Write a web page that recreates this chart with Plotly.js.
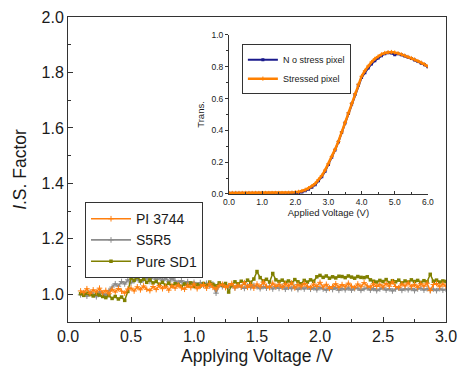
<!DOCTYPE html>
<html><head><meta charset="utf-8">
<script src="https://cdn.plot.ly/plotly-3.0.1.min.js"></script>
<style>html,body{margin:0;padding:0;background:#fff}#chart{width:459px;height:377px}</style>
</head><body><div id="chart"></div>
<script>
const voltage = [0.100,0.125,0.150,0.175,0.200,0.225,0.250,0.275,0.300,0.325,0.350,0.375,0.400,0.425,0.450,0.475,0.500,0.525,0.550,0.575,0.600,0.625,0.650,0.675,0.700,0.725,0.750,0.775,0.800,0.825,0.850,0.875,0.900,0.925,0.950,0.975,1.000,1.025,1.050,1.075,1.100,1.125,1.150,1.175,1.200,1.225,1.250,1.275,1.300,1.325,1.350,1.375,1.400,1.425,1.450,1.475,1.500,1.525,1.550,1.575,1.600,1.625,1.650,1.675,1.700,1.725,1.750,1.775,1.800,1.825,1.850,1.875,1.900,1.925,1.950,1.975,2.000,2.025,2.050,2.075,2.100,2.125,2.150,2.175,2.200,2.225,2.250,2.275,2.300,2.325,2.350,2.375,2.400,2.425,2.450,2.475,2.500,2.525,2.550,2.575,2.600,2.625,2.650,2.675,2.700,2.725,2.750,2.775,2.800,2.825,2.850,2.875,2.900,2.925,2.950,2.975,3.000];
const pi3744 = [1.012,1.006,1.020,1.003,1.016,1.008,1.022,1.005,
1.014,1.002,1.018,1.008,1.021,1.011,1.004,1.019,
1.022,1.012,1.027,1.016,1.030,1.018,1.013,1.028,
1.017,1.032,1.020,1.029,1.015,1.031,1.022,1.034,
1.023,1.018,1.033,1.024,1.037,1.020,1.029,1.035,
1.022,1.038,1.025,1.019,1.032,1.036,1.024,1.031,
1.039,1.023,1.033,1.026,1.042,1.025,1.035,1.022,
1.037,1.027,1.044,1.029,1.024,1.040,1.028,1.036,
1.025,1.038,1.029,1.041,1.023,1.035,1.027,1.039,
1.029,1.024,1.037,1.028,1.043,1.026,1.036,1.021,
1.028,1.038,1.025,1.035,1.027,1.040,1.029,1.024,
1.037,1.027,1.042,1.030,1.025,1.038,1.028,1.036,
1.026,1.039,1.029,1.045,1.028,1.024,1.037,1.030,
1.041,1.027,1.036,1.025,1.038,1.029,1.040,1.013,
1.035,1.039,1.027,1.037,1.029];
const s5r5 = [0.998,1.005,0.993,1.007,1.000,0.991,1.009,1.002,
0.996,1.013,1.026,1.038,1.029,1.046,1.037,1.052,
1.041,1.049,1.057,1.044,1.053,1.060,1.046,1.064,
1.053,1.062,1.049,1.059,1.045,1.057,1.048,1.042,
1.049,1.039,1.046,1.036,1.043,1.034,1.042,1.032,
1.040,1.030,1.037,1.004,1.035,1.027,1.034,1.025,
1.032,1.023,1.031,1.026,1.021,1.030,1.024,1.032,
1.027,1.020,1.028,1.022,1.029,1.019,1.026,1.021,
1.028,1.018,1.025,1.020,1.027,1.017,1.024,1.019,
1.026,1.018,1.023,1.016,1.024,1.019,1.015,1.023,
1.017,1.024,1.014,1.021,1.016,1.023,1.015,1.020,
1.022,1.014,1.020,1.023,1.015,1.021,1.013,1.019,
1.023,1.015,1.020,1.012,1.019,1.022,1.014,1.020,
1.016,1.021,1.013,1.019,1.022,1.015,1.020,1.014,
1.019,1.013,1.020,1.015,1.018];
const pureSD1 = [1.002,0.996,1.004,0.999,0.994,1.001,0.997,0.992,
0.988,0.995,0.985,0.992,0.983,0.990,0.978,1.010,
1.058,1.050,1.062,1.048,1.055,1.043,1.052,1.041,
1.046,1.036,1.043,1.032,1.040,1.030,1.038,1.034,
1.029,1.037,1.031,1.041,1.028,1.035,1.030,1.039,
1.032,1.044,1.036,1.030,1.041,1.033,1.039,1.008,
1.034,1.045,1.038,1.047,1.040,1.051,1.043,1.055,
1.082,1.060,1.048,1.054,1.044,1.075,1.052,1.046,
1.051,1.043,1.048,1.040,1.053,1.045,1.038,1.050,
1.044,1.052,1.047,1.063,1.068,1.061,1.066,1.058,
1.063,1.059,1.065,1.064,1.060,1.066,1.062,1.058,
1.064,1.061,1.060,1.063,1.052,1.047,1.044,1.050,
1.046,1.053,1.042,1.049,1.045,1.051,1.041,1.048,
1.044,1.052,1.046,1.050,1.043,1.049,1.045,1.072,
1.047,1.051,1.044,1.048,1.046];

const appliedV = [0.0,0.1,0.2,0.3,0.4,0.5,0.6,0.7,0.8,0.9,1.0,1.1,1.2,1.3,1.4,1.5,1.6,1.7,1.8,1.9,2.0,2.1,2.2,2.3,2.4,2.5,2.6,2.7,2.8,2.9,3.0,3.1,3.2,3.3,3.4,3.5,3.6,3.7,3.8,3.9,4.0,4.1,4.2,4.3,4.4,4.5,4.6,4.7,4.8,4.9,5.0,5.1,5.2,5.3,5.4,5.5,5.6,5.7,5.8,5.9,6.0];
const noStress = [0.004,0.004,0.004,0.004,0.004,0.004,0.004,0.004,0.004,0.004,0.004,0.004,0.004,0.004,0.004,0.004,0.004,0.004,0.004,0.005,0.006,0.008,0.012,0.020,0.030,0.042,0.058,0.082,0.108,0.143,0.185,0.230,0.276,0.327,0.386,0.446,0.506,0.566,0.625,0.684,0.732,0.763,0.792,0.818,0.838,0.855,0.870,0.882,0.888,0.886,0.876,0.882,0.876,0.868,0.860,0.852,0.843,0.833,0.823,0.812,0.800];
const stressed = [0.006,0.006,0.006,0.006,0.006,0.006,0.006,0.006,0.006,0.006,0.006,0.006,0.006,0.006,0.006,0.006,0.006,0.006,0.007,0.008,0.010,0.013,0.018,0.026,0.036,0.048,0.065,0.090,0.115,0.150,0.190,0.235,0.280,0.330,0.390,0.450,0.510,0.570,0.630,0.690,0.740,0.775,0.805,0.830,0.850,0.865,0.878,0.887,0.892,0.893,0.890,0.885,0.878,0.870,0.862,0.855,0.846,0.836,0.826,0.815,0.802];

const font = 'Liberation Sans, Arial, sans-serif';
const traces = [
  {x: voltage, y: s5r5, name: 'S5R5', type: 'scatter', mode: 'lines+markers', legendrank: 2,
   line: {color: '#8c8c8c', width: 1.8}, marker: {color: '#8c8c8c', size: 4, symbol: 'cross-thin', line:{color:'#8c8c8c', width:1}}, legend: 'legend'},
  {x: voltage, y: pureSD1, name: 'Pure SD1', type: 'scatter', mode: 'lines+markers', legendrank: 3,
   line: {color: '#808000', width: 1.5}, marker: {color: '#808000', size: 3.5, symbol: 'square'}, legend: 'legend'},
  {x: voltage, y: pi3744, name: 'PI 3744', type: 'scatter', mode: 'lines+markers', legendrank: 1,
   line: {color: '#ff7f0e', width: 1.5}, marker: {color: '#ff7f0e', size: 4, symbol: 'cross-thin', line:{color:'#ff7f0e', width:1}}, legend: 'legend'},
  {x: appliedV, y: noStress, name: 'N o stress pixel', type: 'scatter', mode: 'lines+markers',
   xaxis: 'x2', yaxis: 'y2', line: {color: '#1a1a8c', width: 2}, marker: {color: '#1a1a8c', size: 3, symbol: 'square'}, legend: 'legend2'},
  {x: appliedV, y: stressed, name: 'Stressed pixel', type: 'scatter', mode: 'lines+markers',
   xaxis: 'x2', yaxis: 'y2', line: {color: '#ff8000', width: 2.5}, marker: {color: '#ff8000', size: 3, symbol: 'cross-thin', line:{color:'#ff8000', width:1}}, legend: 'legend2'}
];

const layout = {
  width: 459, height: 377,
  margin: {l: 68, r: 13, t: 17, b: 55},
  paper_bgcolor: '#fff', plot_bgcolor: '#fff',
  font: {family: font, color: '#1a1a1a'},
  showlegend: true,
  xaxis: {
    domain: [0, 1], range: [0, 3.0], dtick: 0.5, tickformat: '.1f',
    ticks: 'inside', ticklen: 5, tickcolor: '#333', showline: true, linecolor: '#333', linewidth: 1, mirror: true,
    showgrid: false, zeroline: false, tickfont: {size: 16, family: font},
    minor: {dtick: 0.25, ticks: 'inside', ticklen: 3, tickcolor: '#333'},
    title: {text: 'Applying Voltage /V', font: {size: 17.5, family: font}, standoff: 5}
  },
  yaxis: {
    domain: [0, 1], range: [0.9, 2.0], tick0: 1.0, dtick: 0.2, tickformat: '.1f',
    ticks: 'inside', ticklen: 5, tickcolor: '#333', showline: true, linecolor: '#333', linewidth: 1, mirror: true,
    showgrid: false, zeroline: false, tickfont: {size: 16, family: font},
    minor: {tick0: 1.0, dtick: 0.1, ticks: 'inside', ticklen: 3, tickcolor: '#333'},
    title: {text: '<i>I</i>.S. Factor', font: {size: 17.5, family: font}, standoff: 10}
  },
  xaxis2: {
    domain: [0.426, 0.952], anchor: 'y2', range: [0, 6.0], dtick: 1.0, tickformat: '.1f',
    ticks: 'inside', ticklen: 3, tickcolor: '#333', showline: true, linecolor: '#333', linewidth: 1,
    showgrid: false, zeroline: false, tickfont: {size: 8.5, family: font},
    minor: {dtick: 0.5, ticks: 'inside', ticklen: 2, tickcolor: '#333'},
    title: {text: 'Applied Voltage (V)', font: {size: 9.5, family: font}, standoff: 1}
  },
  yaxis2: {
    domain: [0.42, 0.941], anchor: 'x2', range: [0, 1.0], dtick: 0.2, tickformat: '.1f',
    ticks: 'outside', ticklen: 3, tickcolor: '#333', showline: true, linecolor: '#333', linewidth: 1,
    showgrid: false, zeroline: false, tickfont: {size: 8.5, family: font},
    minor: {dtick: 0.1, ticks: 'outside', ticklen: 2, tickcolor: '#333'},
    title: {text: 'Trans.', font: {size: 9.5, family: font}, standoff: 5}
  },
  legend: {
    x: 0.045, y: 0.393, xanchor: 'left', yanchor: 'top',
    bgcolor: '#fff', bordercolor: '#333', borderwidth: 1,
    font: {size: 14, family: font}, traceorder: 'normal',
    itemwidth: 40, tracegroupgap: 0
  },
  legend2: {
    x: 0.46, y: 0.911, xanchor: 'left', yanchor: 'top',
    bgcolor: '#fff', bordercolor: '#333', borderwidth: 1,
    font: {size: 9, family: font}, traceorder: 'normal', itemwidth: 30, tracegroupgap: 0
  }
};
Plotly.newPlot('chart', traces, layout, {staticPlot: true, displayModeBar: false});
</script></body></html>
